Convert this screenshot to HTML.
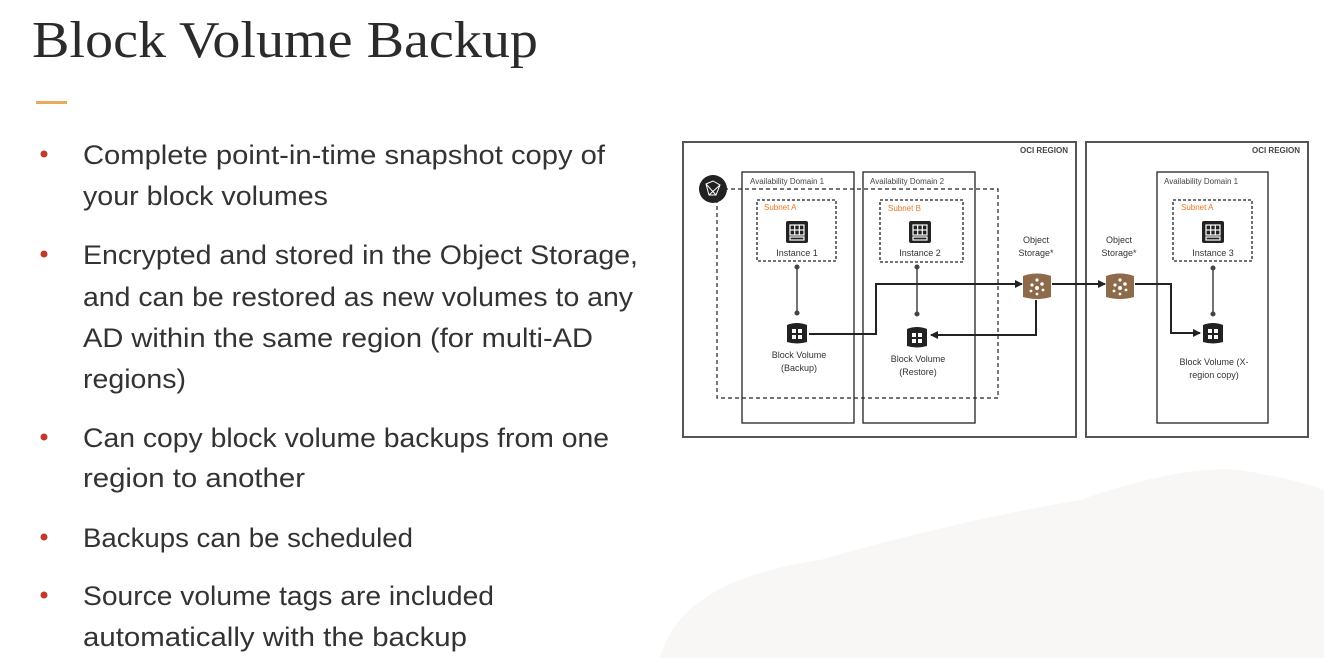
<!DOCTYPE html>
<html><head><meta charset="utf-8"><style>
html,body{margin:0;padding:0;background:#fff;width:1324px;height:658px;overflow:hidden}
svg{display:block;overflow:hidden}
.b{font-family:"Liberation Sans",sans-serif;font-size:27px;fill:#333}
.s{font-family:"Liberation Sans",sans-serif;font-size:8px;fill:#444}
.m{font-family:"Liberation Sans",sans-serif;font-size:9px;fill:#333;text-anchor:middle}
.o{font-family:"Liberation Sans",sans-serif;font-size:8px;fill:#e87722}
.r{font-family:"Liberation Sans",sans-serif;font-size:8px;font-weight:bold;fill:#444;text-anchor:end}
</style></head><body>
<svg width="1324" height="658" viewBox="0 0 1324 658">
<defs>
<marker id="ar" markerWidth="8" markerHeight="8" refX="7" refY="4" orient="auto" markerUnits="userSpaceOnUse"><path d="M0,0L8,4L0,8z" fill="#222"/></marker>
<g id="inst"><rect x="-11" y="-11" width="22" height="22" rx="2" fill="#222"/><g stroke="#fff" stroke-width="1.2" fill="none"><rect x="-7" y="-7" width="14" height="10"/><line x1="-2.3" y1="-7" x2="-2.3" y2="3"/><line x1="2.3" y1="-7" x2="2.3" y2="3"/><line x1="-7" y1="-2" x2="7" y2="-2"/><rect x="-7" y="5" width="14" height="3"/></g></g>
<g id="bv"><path d="M-10,-8 Q0,-12 10,-8 L10,9 Q0,12 -10,9z" fill="#222"/><g fill="#fff"><rect x="-5" y="-4" width="4" height="4"/><rect x="1" y="-4" width="4" height="4"/><rect x="-5" y="2" width="4" height="4"/><rect x="1" y="2" width="4" height="4"/></g></g>
<g id="os"><path d="M-14,-10 Q0,-15 14,-10 L14,11 Q0,15 -14,11z" fill="#8c6a4a"/><g fill="#fff"><circle cx="0" cy="-6" r="1.6"/><circle cx="-5" cy="-1" r="1.6"/><circle cx="5" cy="-2" r="1.8"/><circle cx="0" cy="2" r="2"/><circle cx="-6" cy="5" r="1.4"/><circle cx="6" cy="4" r="1.4"/><circle cx="0" cy="8" r="1.4"/></g></g>
</defs>
<path d="M660,658 Q680,580 820,560 Q960,520 1080,500 Q1180,465 1240,470 Q1300,480 1324,490 L1324,658z" fill="#f8f7f6"/>
<text x="32" y="57" font-family="'Liberation Serif',serif" font-size="52" fill="#2b2b2b" textLength="506" lengthAdjust="spacingAndGlyphs">Block Volume Backup</text>
<rect x="36" y="101" width="31" height="3" fill="#e8a95a"/>
<g fill="#c0392b"><circle cx="44" cy="154" r="3.5"/><circle cx="44" cy="254" r="3.5"/><circle cx="44" cy="437" r="3.5"/><circle cx="44" cy="537" r="3.5"/><circle cx="44" cy="595" r="3.5"/></g>
<text class="b" x="83" y="164" textLength="522" lengthAdjust="spacingAndGlyphs">Complete point-in-time snapshot copy of</text>
<text class="b" x="83" y="205" textLength="245" lengthAdjust="spacingAndGlyphs">your block volumes</text>
<text class="b" x="83" y="264" textLength="555" lengthAdjust="spacingAndGlyphs">Encrypted and stored in the Object Storage,</text>
<text class="b" x="83" y="306" textLength="550" lengthAdjust="spacingAndGlyphs">and can be restored as new volumes to any</text>
<text class="b" x="83" y="347" textLength="510" lengthAdjust="spacingAndGlyphs">AD within the same region (for multi-AD</text>
<text class="b" x="83" y="388" textLength="103" lengthAdjust="spacingAndGlyphs">regions)</text>
<text class="b" x="83" y="447" textLength="526" lengthAdjust="spacingAndGlyphs">Can copy block volume backups from one</text>
<text class="b" x="83" y="487" textLength="222" lengthAdjust="spacingAndGlyphs">region to another</text>
<text class="b" x="83" y="547" textLength="330" lengthAdjust="spacingAndGlyphs">Backups can be scheduled</text>
<text class="b" x="83" y="605" textLength="411" lengthAdjust="spacingAndGlyphs">Source volume tags are included</text>
<text class="b" x="83" y="646" textLength="384" lengthAdjust="spacingAndGlyphs">automatically with the backup</text>

<g fill="#fff" stroke="#555" stroke-width="2">
<rect x="683" y="142" width="393" height="295"/>
<rect x="1086" y="142" width="222" height="295"/>
</g>
<text class="r" x="1068" y="153">OCI REGION</text>
<text class="r" x="1300" y="153">OCI REGION</text>
<g fill="none" stroke="#222" stroke-width="1.3">
<rect x="742" y="172" width="112" height="251"/>
<rect x="863" y="172" width="112" height="251"/>
<rect x="1157" y="172" width="111" height="251"/>
</g>
<rect x="717" y="189" width="281" height="209" fill="none" stroke="#222" stroke-width="1.2" stroke-dasharray="4,3"/>
<g fill="none" stroke="#222" stroke-width="1.3" stroke-dasharray="3,2">
<rect x="757" y="200" width="79" height="61"/>
<rect x="880" y="200" width="83" height="62"/>
<rect x="1173" y="200" width="79" height="61"/>
</g>
<circle cx="713" cy="189" r="14" fill="#222"/>
<path d="M706,184 L713,181 L720,185 L716,195 L709,195z M706,184 L716,195 M720,185 L709,195" stroke="#fff" stroke-width="1" fill="none"/>
<text class="s" x="750" y="184">Availability Domain 1</text>
<text class="s" x="870" y="184">Availability Domain 2</text>
<text class="s" x="1164" y="184">Availability Domain 1</text>
<text class="o" x="764" y="210">Subnet A</text>
<text class="o" x="888" y="211">Subnet B</text>
<text class="o" x="1181" y="210">Subnet A</text>
<use href="#inst" x="797" y="232"/><use href="#inst" x="920" y="232"/><use href="#inst" x="1213" y="232"/>
<text class="m" x="797" y="256" font-size="8">Instance 1</text>
<text class="m" x="920" y="256" font-size="8">Instance 2</text>
<text class="m" x="1213" y="256" font-size="8">Instance 3</text>
<g stroke="#444" stroke-width="1.5" fill="#444">
<line x1="797" y1="267" x2="797" y2="313"/><circle cx="797" cy="267" r="1.8"/><circle cx="797" cy="313" r="1.8"/>
<line x1="917" y1="267" x2="917" y2="314"/><circle cx="917" cy="267" r="1.8"/><circle cx="917" cy="314" r="1.8"/>
<line x1="1213" y1="268" x2="1213" y2="314"/><circle cx="1213" cy="268" r="1.8"/><circle cx="1213" cy="314" r="1.8"/>
</g>
<use href="#bv" x="797" y="333"/><use href="#bv" x="917" y="337"/><use href="#bv" x="1213" y="333"/>
<text class="m" x="799" y="358">Block Volume</text><text class="m" x="799" y="371">(Backup)</text>
<text class="m" x="918" y="362">Block Volume</text><text class="m" x="918" y="375">(Restore)</text>
<text class="m" x="1214" y="365">Block Volume (X-</text><text class="m" x="1214" y="378">region copy)</text>
<text class="m" x="1036" y="243">Object</text><text class="m" x="1036" y="256">Storage*</text>
<text class="m" x="1119" y="243">Object</text><text class="m" x="1119" y="256">Storage*</text>
<use href="#os" x="1037" y="286"/><use href="#os" x="1120" y="286"/>
<g fill="none" stroke="#222" stroke-width="2" marker-end="url(#ar)">
<polyline points="809,334 876,334 876,284 1022,284"/>
<polyline points="1036,300 1036,335 931,335"/>
<polyline points="1052,284 1105,284"/>
<polyline points="1135,284 1171,284 1171,333 1200,333"/>
</g>
</svg>
</body></html>
